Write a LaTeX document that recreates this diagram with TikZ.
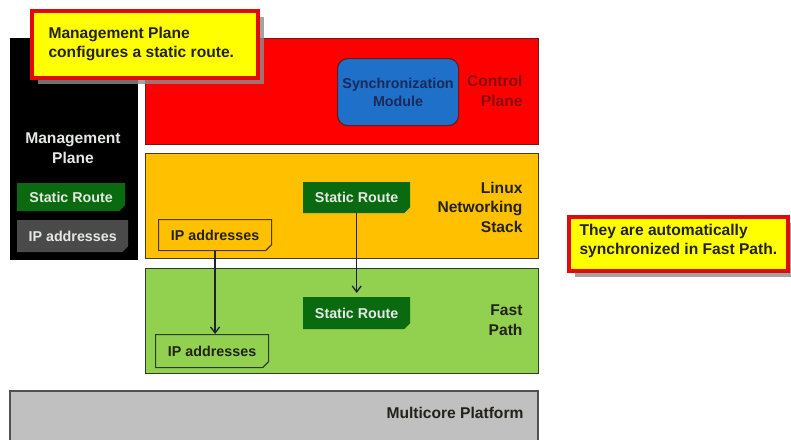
\documentclass[tikz,border=0pt]{standalone}
\usepackage{fontspec}
\setmainfont{Liberation Sans}
\usetikzlibrary{shapes.misc,arrows.meta,shadows}
\definecolor{cred}{HTML}{FF0000}
\definecolor{credb}{HTML}{6A1A1A}
\definecolor{corange}{HTML}{FFC000}
\definecolor{corangeb}{HTML}{4A3A1A}
\definecolor{cgreen}{HTML}{92D050}
\definecolor{cgreenb}{HTML}{2A3F2A}
\definecolor{cgray}{HTML}{C0C0C0}
\definecolor{cgrayb}{HTML}{505050}
\definecolor{cdkgreen}{HTML}{0A6A10}
\definecolor{cdkgray}{HTML}{4A4A4A}
\definecolor{cblue}{HTML}{1F70C8}
\definecolor{cbluet}{HTML}{1A2A5A}
\definecolor{cctrlt}{HTML}{8A0A0A}
\definecolor{ctext}{HTML}{222218}
\definecolor{clight}{HTML}{E4E8E4}
\definecolor{carrow}{HTML}{1C2430}
\definecolor{cyellow}{HTML}{FFFF00}
\definecolor{ccallb}{HTML}{E00A0A}
\newcommand\mylbl{\fontsize{15.6}{19.5}\selectfont\bfseries}
\newcommand\mysmall{\fontsize{14.3}{18}\selectfont\bfseries}
\begin{document}
\begin{tikzpicture}[x=1pt,y=-1pt,
  layerbox/.style={draw=#1, line width=1.2pt, anchor=north west, inner sep=0pt},
  tagbox/.style={chamfered rectangle, chamfered rectangle corners=south east,
     chamfered rectangle xsep=3pt, chamfered rectangle ysep=3pt,
     anchor=north west, inner sep=0pt, font=\mysmall},
  callbox/.style={draw=ccallb, fill=cyellow, line width=4pt, anchor=north west, inner sep=0pt,
     drop shadow={shadow xshift=6pt, shadow yshift=-6pt, fill=black!45, opacity=0.8}},
  lbltext/.style={anchor=east, align=right, font=\mylbl},
  conn/.style={draw=carrow, line width=1.3pt, -{Straight Barb[length=6pt,width=9pt,line width=1.3pt]}}
]
\useasboundingbox (0,0) rectangle (791,439);

% layers
\node[layerbox=black, fill=black, minimum width=127pt, minimum height=221pt] (mgmt) at (10,38) {};
\node[layerbox=credb, fill=cred, minimum width=393pt, minimum height=106pt] (ctrl) at (145,38) {};
\node[layerbox=corangeb, fill=corange, minimum width=393pt, minimum height=105pt] (linux) at (145,153) {};
\node[layerbox=cgreenb, fill=cgreen, minimum width=393pt, minimum height=105pt] (fast) at (145,268) {};
\fill[cgray] (10,391) rectangle (538,440);
\draw[cgrayb, line width=1.2pt] (10,440) -- (10,391) -- (538,391) -- (538,440);

% management plane
\node[font=\mylbl, text=clight, align=center] (mgmtlbl) at (73,148) {Management\\Plane};
\node[tagbox, fill=cdkgreen, text=clight, minimum width=108pt, minimum height=28pt] (msr) at (17,183) {Static Route};
\node[tagbox, fill=cdkgray, text=clight, minimum width=111pt, minimum height=32pt] (mip) at (17,220) {IP addresses};

% control plane
\node[draw=credb, line width=1.2pt, fill=cblue, rounded corners=10pt, anchor=north west, inner sep=0pt,
      minimum width=121pt, minimum height=67pt, text=cbluet, font=\mysmall, align=center] (sync) at (337,58) {Synchronization\\Module};
\node[lbltext, text=cctrlt] (ctrllbl) at (526,91) {Control\\Plane};

% linux
\node[tagbox, fill=cdkgreen, text=clight, minimum width=107pt, minimum height=31pt] (lsr) at (303,182) {Static Route};
\node[tagbox, draw=corangeb, line width=1.2pt, fill=corange, text=ctext, minimum width=113pt, minimum height=31pt] (lip) at (158,219) {IP addresses};
\node[lbltext, text=ctext] (linuxlbl) at (526,207) {Linux\\Networking\\Stack};

% fast path
\node[tagbox, fill=cdkgreen, text=clight, minimum width=107pt, minimum height=32pt] (fsr) at (303,297) {Static Route};
\node[tagbox, draw=cgreenb, line width=1.2pt, fill=cgreen, text=ctext, minimum width=113pt, minimum height=33pt] (fip) at (155,334) {IP addresses};
\node[lbltext, text=ctext] (fastlbl) at (526,320) {Fast\\Path};

% multicore
\node[lbltext, text=ctext] (multilbl) at (527,413) {Multicore Platform};

% connectors
\draw[conn] (lip.south) -- (lip.south |- fip.north);
\draw[conn, shorten >=4pt] (lsr.south) -- (lsr.south |- fsr.north);

% callouts
\node[callbox, minimum width=226pt, minimum height=67pt] (call1) at (30,9) {};
\node[anchor=west, align=left, font=\mylbl, text=ctext] (call1t) at (45,44) {Management Plane\\configures a static route.};
\node[callbox, minimum width=219pt, minimum height=54pt] (call2) at (567,215) {};
\node[anchor=west, align=left, font=\mylbl, text=ctext] (call2t) at (576,241) {They are automatically\\synchronized in Fast Path.};
\end{tikzpicture}
\end{document}
